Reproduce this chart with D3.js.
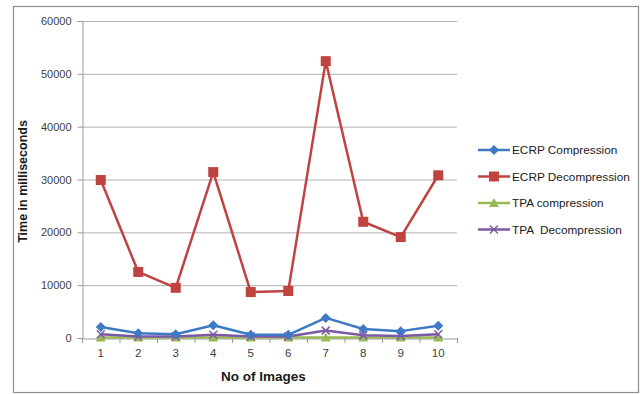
<!DOCTYPE html>
<html><head><meta charset="utf-8">
<script src="https://cdn.jsdelivr.net/npm/d3@7"></script>
<style>body{margin:0;background:#fff}svg{display:block}text{font-family:"Liberation Sans",Arial,sans-serif}</style>
</head><body>
<svg id="c" width="644" height="394"></svg>
<script>
const categories = ["1","2","3","4","5","6","7","8","9","10"];
const ecrpCompression   = [2100, 900, 700, 2400, 600, 600, 3800, 1700, 1300, 2300];
const ecrpDecompression = [29900, 12500, 9500, 31400, 8700, 8900, 52400, 22000, 19100, 30800];
const tpaCompression    = [100, 100, 100, 100, 100, 100, 100, 100, 100, 100];
const tpaDecompression  = [700, 300, 300, 600, 300, 300, 1400, 500, 400, 700];
const yTicks = [0, 10000, 20000, 30000, 40000, 50000, 60000];
const seriesNames = ["ECRP Compression","ECRP Decompression","TPA compression","TPA  Decompression"];
const seriesColors = ["#3D79C4","#BF4341","#98B954","#7D5AA6"];
const seriesMarkers = ["diamond","square","triangle","x"];
const seriesData = [ecrpCompression, ecrpDecompression, tpaCompression, tpaDecompression];

const svg = d3.select("#c");
svg.append("rect").attr("x",13.5).attr("y",6.5).attr("width",625).attr("height",386)
  .attr("fill","#fff").attr("stroke","#8c8c8c").attr("stroke-width",1.2);

const L=82, R=457, T=21, B=338;
const x = d3.scaleBand().domain(categories).range([L,R]);
const y = d3.scaleLinear().domain([0,60000]).range([B,T]);

svg.append("g").selectAll("line").data(yTicks.filter(d=>d>0)).join("line")
  .attr("x1",L).attr("x2",R).attr("y1",d=>y(d)+0.5).attr("y2",d=>y(d)+0.5)
  .attr("stroke","#b3b3b3").attr("stroke-width",1);

const ya = svg.append("g").attr("transform",`translate(${L+0.5},0)`)
  .call(d3.axisLeft(y).tickValues(yTicks).tickSize(5).tickPadding(6).tickFormat(d3.format("d")));
ya.select(".domain").attr("stroke","#9a9a9a");
ya.selectAll(".tick line").attr("stroke","#9a9a9a");
ya.selectAll("text").attr("font-size",11).attr("fill","#404040");

const xa = svg.append("g").attr("transform",`translate(0,${B+0.5})`)
  .call(d3.axisBottom(x).tickSize(0).tickPadding(10));
xa.select(".domain").attr("stroke","#9a9a9a");
xa.selectAll("text").attr("font-size",11.5).attr("fill","#404040");
svg.append("g").selectAll("line").data(categories.concat(["end"])).join("line")
  .attr("x1",(d,i)=>L+i*x.step()+0.5).attr("x2",(d,i)=>L+i*x.step()+0.5)
  .attr("y1",B).attr("y2",B+5).attr("stroke","#9a9a9a");

svg.append("text").attr("x",(L+R)/2-6).attr("y",381).attr("text-anchor","middle")
  .attr("font-size",13.5).attr("font-weight","bold").attr("fill","#1a1a1a").text("No of Images");
svg.append("text").attr("transform",`translate(27,${(T+B)/2+2}) rotate(-90)`).attr("text-anchor","middle")
  .attr("font-size",12.5).attr("font-weight","bold").attr("fill","#1a1a1a").text("Time in milliseconds");

function marker(g, type, cx, cy, color){
  if(type==="diamond"){
    g.append("path").attr("d",`M${cx},${cy-5}L${cx+5},${cy}L${cx},${cy+5}L${cx-5},${cy}Z`).attr("fill",color);
  } else if(type==="square"){
    g.append("rect").attr("x",cx-5).attr("y",cy-5).attr("width",10).attr("height",10).attr("fill",color);
  } else if(type==="triangle"){
    g.append("path").attr("d",`M${cx},${cy-5}L${cx+5},${cy+4}L${cx-5},${cy+4}Z`).attr("fill",color);
  } else {
    g.append("path").attr("d",`M${cx-4},${cy-4}L${cx+4},${cy+4}M${cx-4},${cy+4}L${cx+4},${cy-4}`)
      .attr("stroke",color).attr("stroke-width",1.5);
  }
}

const line = d3.line().x((d,i)=>x(categories[i])+x.bandwidth()/2).y(d=>y(d));
[2,3,0,1].forEach(s=>{
  const g = svg.append("g");
  g.append("path").datum(seriesData[s]).attr("d",line).attr("fill","none")
    .attr("stroke",seriesColors[s]).attr("stroke-width",2.5).attr("stroke-linejoin","round");
  seriesData[s].forEach((v,i)=>marker(g, seriesMarkers[s], x(categories[i])+x.bandwidth()/2, y(v), seriesColors[s]));
});

const lg = svg.append("g");
seriesNames.forEach((n,i)=>{
  const yy = 150 + i*26.5;
  lg.append("line").attr("x1",478).attr("x2",510).attr("y1",yy).attr("y2",yy)
    .attr("stroke",seriesColors[i]).attr("stroke-width",2.5);
  marker(lg, seriesMarkers[i], 494, yy, seriesColors[i]);
  lg.append("text").attr("x",512).attr("y",yy+4).attr("font-size",11.8)
    .style("white-space","pre").attr("fill","#1a1a1a").text(n);
});
</script>
</body></html>
